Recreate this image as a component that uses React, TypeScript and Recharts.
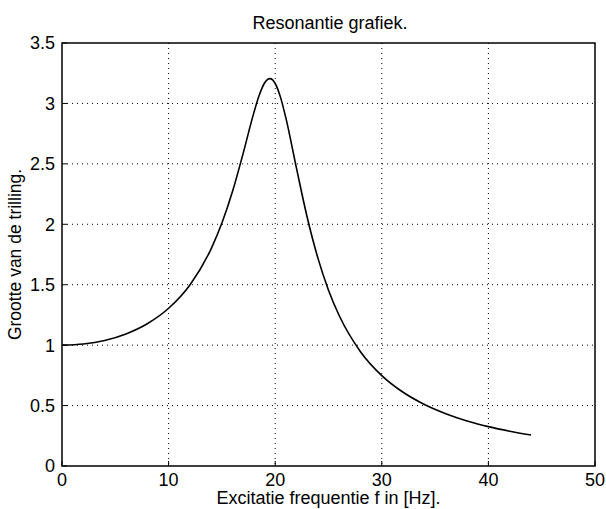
import React from "react";
import {
  LineChart,
  Line,
  CartesianGrid,
  XAxis,
  YAxis,
  ReferenceArea,
} from "recharts";

// frequency in Hz
const freq = [
  0, 2, 4, 6, 8, 10, 12, 14, 15, 16, 17, 18, 18.5, 19, 19.5, 20, 20.5, 21, 22,
  23, 24, 25, 26, 28, 30, 32, 34, 36, 38, 40, 42, 44,
];
// amplitude ratio
const amplitude = [
  1.0, 1.01, 1.039, 1.093, 1.177, 1.305, 1.498, 1.799, 2.01, 2.273, 2.589,
  2.924, 3.067, 3.169, 3.205, 3.165, 3.05, 2.88, 2.462, 2.058, 1.722, 1.455,
  1.245, 0.946, 0.748, 0.61, 0.509, 0.433, 0.373, 0.326, 0.288, 0.256,
];

const xTicks = [0, 10, 20, 30, 40, 50];
const yTicks = [0, 0.5, 1, 1.5, 2, 2.5, 3, 3.5];

const data = freq.map((f, i) => ({ f, a: amplitude[i] }));

const FONT = "'Liberation Sans', Arial, Helvetica, sans-serif";
const tickStyle = { fill: "#000", fontSize: 18, fontFamily: FONT };

export default function App() {
  return (
    <div
      style={{
        position: "relative",
        width: 606,
        height: 509,
        background: "#fff",
        fontFamily: FONT,
      }}
    >
      <style>{`body{margin:0}`}</style>
      <div
        style={{
          position: "absolute",
          top: 14,
          left: 0,
          width: 660,
          textAlign: "center",
          fontSize: 18,
          lineHeight: "18px",
          color: "#000",
        }}
      >
        Resonantie grafiek.
      </div>
      <LineChart
        width={606}
        height={509}
        data={data}
        margin={{ top: 43, right: 11, bottom: 0, left: 0 }}
      >
        {/* dotted grid */}
        <CartesianGrid
          stroke="#000"
          strokeDasharray="1 4"
          strokeWidth={1}
          horizontalValues={yTicks.slice(1, -1)}
          verticalValues={xTicks.slice(1, -1)}
        />

        <XAxis
          type="number"
          dataKey="f"
          domain={[0, 50]}
          ticks={xTicks}
          height={43}
          axisLine={false}
          tickLine={{ stroke: "#000" }}
          tickSize={-5}
          tickMargin={12}
          tick={tickStyle}
          label={{
            value: "Excitatie frequentie f in [Hz].",
            position: "insideBottom",
            offset: 5,
            fill: "#000",
            fontSize: 18,
            fontFamily: FONT,
          }}
        />
        {/* top ticks of the box */}
        <XAxis
          xAxisId="top"
          orientation="top"
          type="number"
          dataKey="f"
          domain={[0, 50]}
          ticks={xTicks}
          height={0}
          axisLine={false}
          tickLine={{ stroke: "#000" }}
          tickSize={-5}
          tickFormatter={() => ""}
        />

        <YAxis
          type="number"
          domain={[0, 3.5]}
          ticks={yTicks}
          width={62}
          axisLine={false}
          tickLine={{ stroke: "#000" }}
          tickSize={-5}
          tickMargin={12}
          tick={tickStyle}
          label={{
            value: "Grootte van de trilling.",
            angle: -90,
            position: "insideLeft",
            offset: 15,
            style: { textAnchor: "middle" },
            fill: "#000",
            fontSize: 17.5,
            fontFamily: FONT,
          }}
        />
        {/* right ticks of the box */}
        <YAxis
          yAxisId="right"
          orientation="right"
          type="number"
          domain={[0, 3.5]}
          ticks={yTicks}
          width={0}
          axisLine={false}
          tickLine={{ stroke: "#000" }}
          tickSize={-5}
          tickFormatter={() => ""}
        />

        {/* axes box */}
        <ReferenceArea
          x1={0}
          x2={50}
          y1={0}
          y2={3.5}
          fill="none"
          stroke="#000"
          strokeWidth={1.5}
        />

        <Line
          type="monotone"
          dataKey="a"
          stroke="#000"
          strokeWidth={1.6}
          dot={false}
          isAnimationActive={false}
        />
      </LineChart>
    </div>
  );
}
